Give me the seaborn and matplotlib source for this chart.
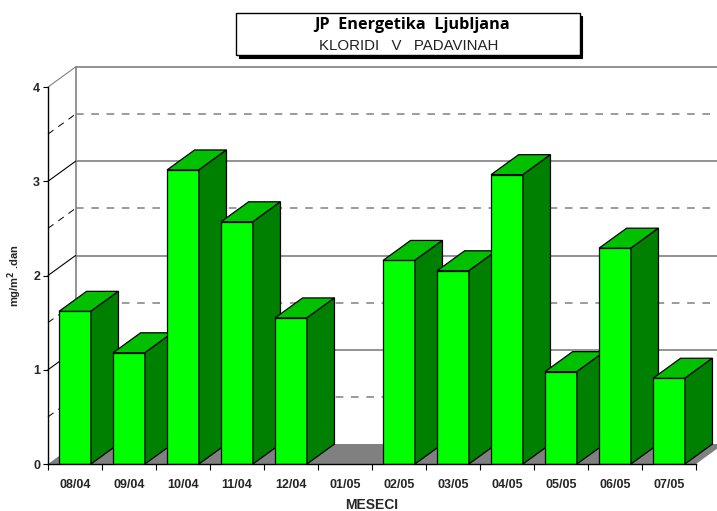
import matplotlib
matplotlib.use("Agg")
import matplotlib.pyplot as plt
from matplotlib.patches import Polygon, Rectangle
import pandas as pd
import seaborn as sns

# Podatki
meseci = ["08/04", "09/04", "10/04", "11/04", "12/04", "01/05",
          "02/05", "03/05", "04/05", "05/05", "06/05", "07/05"]
kloridi = [1.62, 1.18, 3.12, 2.57, 1.55, 0.0, 2.16, 2.05, 3.07, 0.98, 2.29, 0.91]
y_ticks = [0, 1, 2, 3, 4]
y_half = [0.5, 1.5, 2.5, 3.5]

# Barve in globina 3D
FRONT = "#00ff00"
TOP = "#00c000"
SIDE = "#008000"
GRAY = "#808080"
DX = 0.51
DY = 0.212

sns.set_style("white")
plt.rcParams["font.family"] = ["Liberation Sans", "DejaVu Sans"]

fig = plt.figure(figsize=(7.17, 5.11), dpi=100)
ax = fig.add_axes([48 / 717, 47 / 511, 648 / 717, 377 / 511])

df = pd.DataFrame({"mesec": meseci, "vrednost": kloridi})
sns.barplot(data=df, x="mesec", y="vrednost", color=FRONT, saturation=1, width=0.59,
            edgecolor="black", linewidth=0.9, ax=ax)

ax.set_xlim(-0.5, len(meseci) - 0.5)
ax.set_ylim(0, 4)
x0, x1 = ax.get_xlim()
x_end = x1 + DX

# Tla in stena
ax.add_patch(Polygon([(x0, 0), (x0 + DX, DY), (x_end, DY), (x1, 0)], closed=True,
                     facecolor=GRAY, edgecolor="none", zorder=1, clip_on=False))
ax.plot([x0 + DX, x0 + DX], [DY, 4 + DY], color=GRAY, lw=1.2, zorder=1, clip_on=False)

for v in y_ticks[1:]:
    ax.plot([x0 + DX, x_end], [v + DY, v + DY], color=GRAY, lw=1.2, zorder=1, clip_on=False)
    ax.plot([x0, x0 + DX], [v, v + DY], color=GRAY if v == 4 else "black", lw=0.8,
            zorder=1, clip_on=False)
for v in y_half:
    ax.plot([x0 + DX, x_end], [v + DY, v + DY], color=GRAY, lw=1.1, zorder=1, clip_on=False,
            linestyle=(0, (5, 5)))
    ax.plot([x0, x0 + DX], [v, v + DY], color="black", lw=0.7, zorder=1, clip_on=False,
            linestyle=(0, (7, 6)))

# 3D stolpci: vsak naslednji prekrije stransko ploskev prejsnjega
for i, bar in enumerate(ax.patches[:len(meseci)]):
    bar.set_zorder(3 + i)
    h = bar.get_height()
    if h == 0:
        bar.set_visible(False)
        continue
    a = bar.get_x()
    b = a + bar.get_width()
    ax.add_patch(Polygon([(a, h), (a + DX, h + DY), (b + DX, h + DY), (b, h)], closed=True,
                         facecolor=TOP, edgecolor="black", lw=0.9, zorder=3 + i, clip_on=False))
    ax.add_patch(Polygon([(b, 0), (b + DX, DY), (b + DX, h + DY), (b, h)], closed=True,
                         facecolor=SIDE, edgecolor="black", lw=0.9, zorder=3 + i, clip_on=False))

# Osi
sns.despine(ax=ax, top=True, right=True)
for s in ["left", "bottom"]:
    ax.spines[s].set_color("black")
    ax.spines[s].set_linewidth(1.0)
    ax.spines[s].set_zorder(30)

ax.set_yticks(y_ticks)
ax.tick_params(axis="y", which="major", left=True, length=3.6, width=0.8, color="black", pad=2,
               labelsize=9)
ax.set_xticks(range(len(meseci)))
ax.set_xticklabels(meseci)
ax.set_xticks([x0 + i for i in range(len(meseci) + 1)], minor=True)
ax.tick_params(axis="x", which="major", bottom=False, length=0, pad=10.5, labelsize=9)
ax.tick_params(axis="x", which="minor", bottom=True, length=4.5, width=0.8, color="black")
for lab in ax.get_xticklabels() + ax.get_yticklabels():
    lab.set_fontweight("bold")

ax.set_xlabel("MESECI", fontsize=10, fontweight="bold", labelpad=5.5)
ax.set_ylabel("mg/m$^{\\mathbf{2}}$ .dan", fontsize=8, fontweight="bold")
ax.yaxis.set_label_coords(-0.0365, 0.5)

# Naslov v okvirju s senco
fig.add_artist(Rectangle((239 / 717, 1 - 58 / 511), 343 / 717, 42 / 511, transform=fig.transFigure,
                         facecolor="black", edgecolor="black", lw=0.8))
fig.add_artist(Rectangle((236 / 717, 1 - 55 / 511), 344 / 717, 42 / 511, transform=fig.transFigure,
                         facecolor="white", edgecolor="black", lw=1.0))
fig.text(412 / 717, 1 - 25 / 511, "JP  Energetika  Ljubljana", ha="center", va="center",
         fontsize=11.7, fontweight="bold", color="black", family="Open Sans")
fig.text(409 / 717, 1 - 46 / 511, "KLORIDI   V   PADAVINAH", ha="center", va="center",
         fontsize=10.8, color="#222222")

fig.savefig("out.png", dpi=100)
plt.close(fig)
